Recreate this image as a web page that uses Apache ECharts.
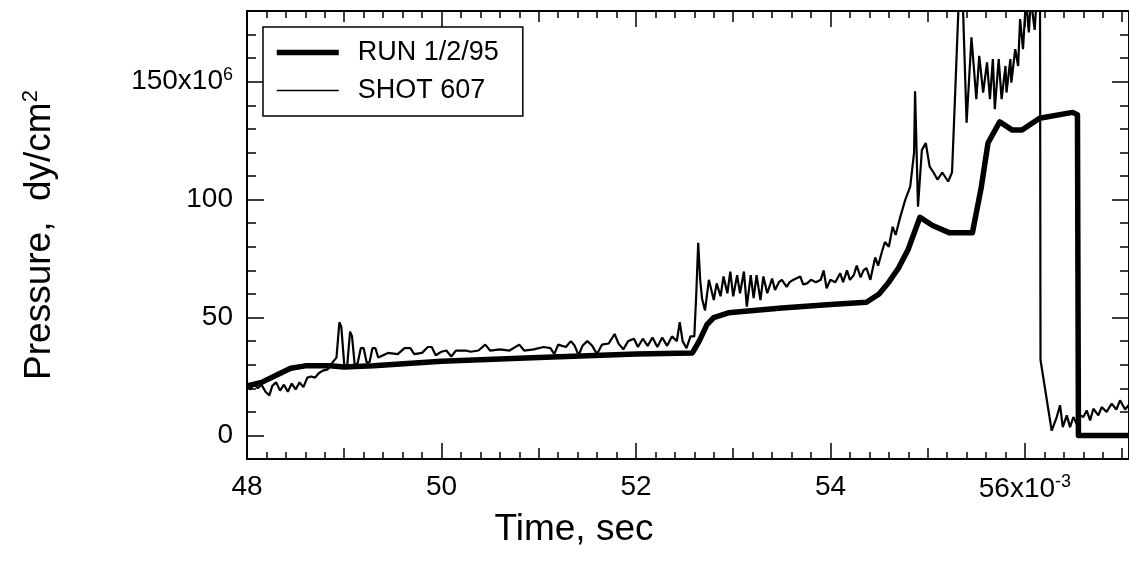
<!DOCTYPE html>
<html>
<head>
<meta charset="utf-8">
<script src="https://cdn.jsdelivr.net/npm/echarts@6/dist/echarts.min.js"></script>
<style>
html,body{margin:0;padding:0;background:#fff;}
#c{width:1129px;height:566px;}
</style>
</head>
<body>
<div id="c"></div>
<script>
// ---- data ----
const xLabelTicks = [48, 50, 52, 54, 56];
const yLabelTicks = [0, 50, 100, 150];
const seriesNames = ['RUN 1/2/95', 'SHOT 607'];

const runT = [48.0, 48.15, 48.3, 48.45, 48.6, 48.85, 49.0, 49.3, 50.0, 51.0, 52.0, 52.58, 52.65, 52.73, 52.8, 52.95, 53.5, 54.0, 54.37, 54.5, 54.6, 54.7, 54.8, 54.92, 55.05, 55.22, 55.46, 55.55, 55.62, 55.74, 55.87, 55.97, 56.15, 56.49, 56.54, 56.55, 57.07];
const runP = [21, 22.5, 25.5, 28.5, 29.5, 29.5, 29, 29.5, 31.5, 33, 34.5, 35, 40, 47, 50, 52, 54, 55.5, 56.5, 60, 65, 71, 79, 92.5, 89, 86, 86, 105, 124, 133, 129.5, 129.5, 134.5, 137, 136, 0, 0];

const shotT = [48.00, 48.04, 48.07, 48.11, 48.15, 48.19, 48.23, 48.26, 48.30, 48.34, 48.38, 48.42, 48.46, 48.50, 48.54, 48.58, 48.62, 48.66, 48.70, 48.74, 48.78, 48.83, 48.88, 48.92, 48.95, 48.97, 49.00, 49.03, 49.06, 49.08, 49.11, 49.14, 49.17, 49.20, 49.23, 49.26, 49.29, 49.32, 49.35,
  49.45, 49.55, 49.62, 49.68, 49.72, 49.80, 49.86, 49.90, 49.94, 50.00, 50.05, 50.10, 50.15, 50.25, 50.30, 50.38, 50.45, 50.50, 50.60, 50.70, 50.80, 50.85, 50.95, 51.05, 51.12, 51.16, 51.20, 51.28, 51.33, 51.37, 51.41, 51.45, 51.50, 51.55, 51.60, 51.65, 51.72, 51.78, 51.82, 51.87, 51.92, 51.98, 52.02, 52.07, 52.12, 52.17, 52.22, 52.27, 52.32, 52.37, 52.42, 52.45, 52.48, 52.52, 52.56, 52.60,
  52.62, 52.64, 52.66, 52.68, 52.71, 52.75, 52.80, 52.83, 52.87, 52.90, 52.94, 52.97, 53.00, 53.04, 53.07, 53.11, 53.14, 53.18, 53.21, 53.24, 53.28, 53.31, 53.35, 53.40, 53.43, 53.47, 53.50, 53.55, 53.58, 53.62, 53.69, 53.72, 53.76, 53.80, 53.85, 53.90, 53.93, 53.96, 54.00, 54.05, 54.10, 54.13, 54.17, 54.20, 54.24, 54.27, 54.31, 54.34, 54.37, 54.41, 54.46, 54.49, 54.53, 54.56, 54.60, 54.64, 54.67, 54.72, 54.77, 54.82, 54.86, 54.87, 54.88, 54.90, 54.94, 54.98, 55.02, 55.06, 55.10, 55.15, 55.21, 55.25, 55.28, 55.30, 55.32,
  55.36, 55.40, 55.45, 55.50, 55.53, 55.57, 55.61, 55.64, 55.67, 55.69, 55.73, 55.76, 55.80, 55.81, 55.85, 55.86, 55.90, 55.93, 55.95, 55.98, 56.01, 56.04, 56.06, 56.10, 56.12, 56.155, 56.16, 56.275, 56.327, 56.361, 56.389, 56.43, 56.464, 56.498, 56.539, 56.567, 56.60, 56.635, 56.67, 56.704, 56.755, 56.789, 56.84, 56.892, 56.94, 56.978, 57.03, 57.07];
const shotP = [21, 19.5, 22, 20, 21.5, 18.5, 17, 21, 22.5, 19, 21.5, 18.5, 22, 19.5, 22.5, 20.5, 24.5, 25, 24.5, 26.5, 27.5, 28, 31, 33, 48, 46, 30, 29.5, 44, 42, 29, 31, 37, 37, 31, 31, 37, 37, 33,
  35, 34.5, 37, 37, 34.5, 35, 37.5, 37.5, 34, 35.5, 36, 33.5, 36, 36, 35.5, 36, 38.5, 36, 36.5, 36, 38.5, 36, 36.5, 37.5, 37, 34.5, 38.5, 37.5, 40, 38, 34, 38, 40, 38, 34.5, 38.5, 39, 43, 39, 36.5, 40, 41, 37.5, 41, 38, 41.5, 37.5, 41.5, 38, 42, 40, 48, 40, 37, 42, 42,
  60, 81.7, 66, 58, 53, 66, 57.4, 64.5, 59, 67.4, 60.3, 69.5, 59, 68, 60.3, 69.5, 54.6, 68, 58.2, 68, 57.4, 67.4, 60.3, 66.5, 61.7, 65, 66, 63, 65, 66, 67.4, 64, 64.5, 66, 65, 66, 70, 62.4, 66, 65, 68.8, 65, 70, 66, 68, 72, 67, 70, 71, 66, 75.5, 72, 78, 82, 80, 88.5, 85, 93, 100, 105.5, 120, 146, 130, 97, 121, 124, 114, 111.5, 108.5, 111.5, 107.7, 111.5, 142.5, 164, 185,
  185, 132.6, 168.8, 142.6, 161, 145.4, 158.2, 142.6, 159.6, 138.4, 159.6, 142.6, 156.7, 145.4, 159.6, 149.6, 163.8, 156.7, 176.6, 163.8, 185, 170.9, 185, 172, 185, 185, 32, 2, 7.8, 12.8, 3.5, 8.5, 3.5, 7.8, 4.2, 8.5, 7.8, 10.6, 6.4, 11.3, 8.5, 12, 10, 13.5, 11, 14.9, 11, 13];

// ---- chart ----
const FONT = '"Liberation Sans", Arial, Helvetica, sans-serif';
const X_MIN = 48, X_MAX = 57.07, Y_MIN = -10, Y_MAX = 180;
const lineCol = '#000';
const lineWidths = [5.5, 2.2];

function xLab(v) {
  if (v === 56) return '56x10{sup|-3}';
  return String(v);
}
function yLab(v) {
  if (v === 150) return '150x10{sup|6}';
  return String(v);
}
const rich = {
  sup: { fontSize: 18, fontFamily: FONT, color: '#000', verticalAlign: 'top', padding: [0, 0, 14, 0] }
};

function xAxisBase(pos, showLine) {
  return {
    type: 'value', position: pos, min: X_MIN, max: X_MAX, gridIndex: 0,
    axisLine: { show: showLine, onZero: false, lineStyle: { color: lineCol, width: 2 } },
    splitLine: { show: false }, minorSplitLine: { show: false }
  };
}
function yAxisBase(pos, showLine) {
  return {
    type: 'value', position: pos, min: Y_MIN, max: Y_MAX, gridIndex: 0,
    axisLine: { show: showLine, onZero: false, lineStyle: { color: lineCol, width: 2 } },
    splitLine: { show: false }, minorSplitLine: { show: false }
  };
}

const xAxes = [];
xAxes.push(Object.assign(xAxisBase('bottom', true), {
  interval: 1,
  axisTick: { show: true, inside: true, length: 11, lineStyle: { color: lineCol, width: 1.5 } },
  minorTick: { show: true, splitNumber: 5, length: 7, lineStyle: { color: lineCol, width: 1.5 } },
  axisLabel: { show: true, customValues: xLabelTicks, formatter: xLab, margin: 14, color: '#000', fontSize: 28, fontFamily: FONT, rich: rich }
}));
xAxes.push(Object.assign(xAxisBase('bottom', false), {
  axisTick: { show: true, inside: true, length: 16, customValues: xLabelTicks, lineStyle: { color: lineCol, width: 1.5 } },
  axisLabel: { show: false }
}));
xAxes.push(Object.assign(xAxisBase('top', true), {
  interval: 1,
  axisTick: { show: true, inside: true, length: 11, lineStyle: { color: lineCol, width: 1.5 } },
  minorTick: { show: true, splitNumber: 5, length: 7, lineStyle: { color: lineCol, width: 1.5 } },
  axisLabel: { show: false }
}));
xAxes.push(Object.assign(xAxisBase('top', false), {
  axisTick: { show: true, inside: true, length: 16, customValues: xLabelTicks, lineStyle: { color: lineCol, width: 1.5 } },
  axisLabel: { show: false }
}));

const yAxes = [];
yAxes.push(Object.assign(yAxisBase('left', true), {
  interval: 10,
  axisTick: { show: true, inside: true, length: 9, lineStyle: { color: lineCol, width: 1.5 } },
  axisLabel: { show: true, customValues: yLabelTicks, formatter: yLab, margin: 14, color: '#000', fontSize: 28, fontFamily: FONT, rich: rich },
  name: 'Pressure,  dy/cm{sup|2}',
  nameLocation: 'middle', nameGap: 187, nameRotate: 90,
  nameTextStyle: { fontSize: 37, fontFamily: FONT, color: '#000', rich: { sup: { fontSize: 22, fontFamily: FONT, color: '#000', verticalAlign: 'top', padding: [0, 0, 18, 0] } } }
}));
yAxes.push(Object.assign(yAxisBase('left', false), {
  axisTick: { show: true, inside: true, length: 17, customValues: yLabelTicks, lineStyle: { color: lineCol, width: 1.5 } },
  axisLabel: { show: false }
}));
yAxes.push(Object.assign(yAxisBase('right', true), {
  interval: 10,
  axisTick: { show: true, inside: true, length: 9, lineStyle: { color: lineCol, width: 1.5 } },
  axisLabel: { show: false }
}));
yAxes.push(Object.assign(yAxisBase('right', false), {
  axisTick: { show: true, inside: true, length: 17, customValues: yLabelTicks, lineStyle: { color: lineCol, width: 1.5 } },
  axisLabel: { show: false }
}));

const runData = runT.map((t, i) => [t, runP[i]]);
const shotData = shotT.map((t, i) => [t, shotP[i]]);

const chart = echarts.init(document.getElementById('c'), null, { renderer: 'canvas' });
chart.setOption({
  animation: false,
  backgroundColor: '#fff',
  grid: { left: 247, top: 11, width: 883, height: 448, containLabel: false },
  title: {
    text: 'Time, sec', left: 569, top: 506, textAlign: 'center',
    textStyle: { fontSize: 37, fontWeight: 'normal', fontFamily: FONT, color: '#000' }
  },
  legend: {
    orient: 'vertical', left: 263, top: 27,
    padding: [12, 24, 12, 11], itemGap: 11,
    itemWidth: 62, itemHeight: 24,
    borderColor: '#000', borderWidth: 1.5, backgroundColor: '#fff',
    itemStyle: { color: 'rgba(0,0,0,0)', borderColor: 'rgba(0,0,0,0)', borderWidth: 0, opacity: 0 },
    data: [
      { name: seriesNames[0], lineStyle: { width: lineWidths[0], color: '#000' } },
      { name: seriesNames[1], lineStyle: { width: 1.5, color: '#000' } }
    ],
    textStyle: { fontSize: 27, fontFamily: FONT, color: '#000', padding: [0, 0, 0, 14] }
  },
  xAxis: xAxes,
  yAxis: yAxes,
  series: [
    {
      name: seriesNames[0], type: 'line', xAxisIndex: 0, yAxisIndex: 0,
      data: runData, showSymbol: false, symbol: 'none', clip: true,
      lineStyle: { color: '#000', width: lineWidths[0], join: 'round' }, itemStyle: { color: '#000' }, z: 3
    },
    {
      name: seriesNames[1], type: 'line', xAxisIndex: 0, yAxisIndex: 0,
      data: shotData, showSymbol: false, symbol: 'none', clip: true,
      lineStyle: { color: '#000', width: lineWidths[1] }, itemStyle: { color: '#000' }, z: 4
    }
  ]
});
</script>
</body>
</html>
